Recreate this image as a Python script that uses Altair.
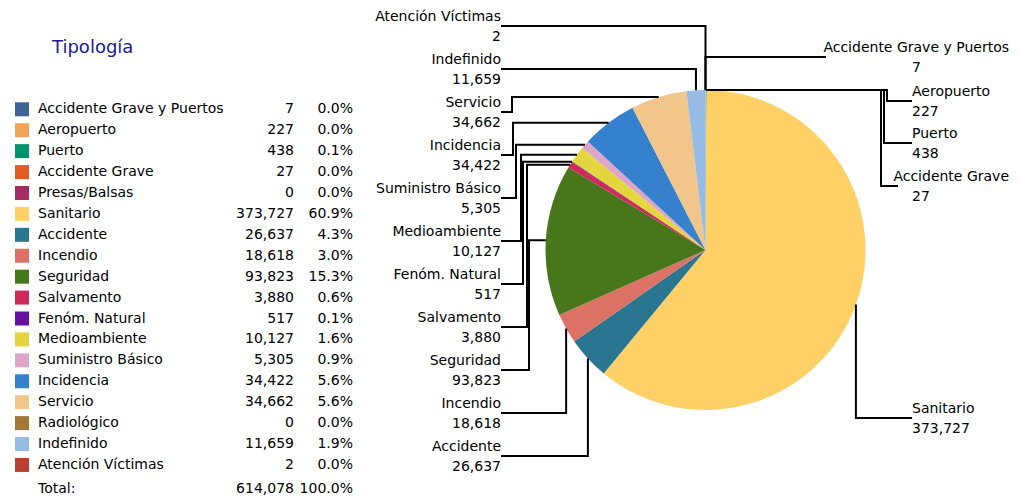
import math
import altair as alt
import pandas as pd

# ---------------- data ----------------
categories = ["Accidente Grave y Puertos", "Aeropuerto", "Puerto", "Accidente Grave",
              "Presas/Balsas", "Sanitario", "Accidente", "Incendio", "Seguridad",
              "Salvamento", "Fenóm. Natural", "Medioambiente", "Suministro Básico",
              "Incidencia", "Servicio", "Radiológico", "Indefinido", "Atención Víctimas"]
values = [7, 227, 438, 27, 0, 373727, 26637, 18618, 93823, 3880, 517, 10127, 5305,
          34422, 34662, 0, 11659, 2]
colors = ["#3D6399", "#F0A45A", "#00936E", "#E05C22", "#A12D62", "#FFD066", "#2A7590",
          "#DC7266", "#47771A", "#CE2A5A", "#630FA0", "#E4D63E", "#DBA6CA", "#3581CE",
          "#F2C58A", "#A27838", "#96BBE4", "#BA4030"]
title_text = "Tipología"
total_label = "Total:"

# labels around the pie
left_cats = ["Atención Víctimas", "Indefinido", "Servicio", "Incidencia", "Suministro Básico",
             "Medioambiente", "Fenóm. Natural", "Salvamento", "Seguridad", "Incendio", "Accidente"]
right_cats = ["Accidente Grave y Puertos", "Aeropuerto", "Puerto", "Accidente Grave", "Sanitario"]

# ---------------- layout ----------------
FONT = "'DejaVu Sans', sans-serif"
FS = 14
M = 8
W, H = 1002, 489
CX, CY, R = 705.5, 250.0, 160.0

left_line_y0, left_line_dy = 26.0, 43.0
left_elbow = [None, None, 512, 513, 516, 521, 523, 527, 529, None, None]
left_text_x = 501.0
right_line_y = [57.0, 101.0, 143.0, 186.0, 418.0]
right_elbow = [None, 887, 884, 881, None]
right_name_x = [826.0, 912.0, 912.0, 898.0, 912.0]
right_flush = [True, False, False, True, False]   # pushed against the right edge
right_edge_x = 1009.0
right_val_x = 912.0

xs = alt.Scale(domain=[M, M + W], nice=False, zero=False)
ys = alt.Scale(domain=[M, M + H], nice=False, zero=False, reverse=True)


def X(f):
    return alt.X(f, type="quantitative", scale=xs, axis=None)


def Y(f):
    return alt.Y(f, type="quantitative", scale=ys, axis=None)


n = len(categories)
total = sum(values)
df = pd.DataFrame({"cat": categories, "value": values, "idx": list(range(n))})
color_scale = alt.Scale(domain=categories, range=colors)

# ---------------- pie ----------------
pie = alt.Chart(df).mark_arc(radius=R, strokeWidth=0).encode(
    theta=alt.Theta("value:Q", stack=True),
    color=alt.Color("cat:N", scale=color_scale, legend=None),
    order=alt.Order("idx:Q"),
    x=alt.value(CX - M),
    y=alt.value(CY - M),
)

# ---------------- leader lines & labels ----------------
mid = {}
cum = 0.0
for c, v in zip(categories, values):
    mid[c] = (cum + v / 2.0) / total * 2 * math.pi
    cum += v
val_of = dict(zip(categories, values))


def edge(c):
    a = mid[c]
    return CX + R * math.sin(a), CY - R * math.cos(a)


pts = []
lab_left = []
lab_right = []
for i, c in enumerate(left_cats):
    px, py = edge(c)
    ly = left_line_y0 + i * left_line_dy
    ex = px if left_elbow[i] is None else left_elbow[i]
    for k, (x, y) in enumerate([(px, py), (ex, py), (ex, ly), (left_text_x, ly)]):
        pts.append({"cat": c, "k": k, "x": x, "y": y})
    lab_left.append({"cat": c, "value": val_of[c], "tx": left_text_x,
                     "ny": ly - 9.5, "vy": ly + 10.5})
for i, c in enumerate(right_cats):
    px, py = edge(c)
    ly = right_line_y[i]
    ex = px if right_elbow[i] is None else right_elbow[i]
    for k, (x, y) in enumerate([(px, py), (ex, py), (ex, ly), (right_name_x[i], ly)]):
        pts.append({"cat": c, "k": k, "x": x, "y": y})
    lab_right.append({"cat": c, "value": val_of[c],
                      "nx": right_edge_x if right_flush[i] else right_name_x[i],
                      "flush": right_flush[i],
                      "vx": right_val_x, "ny": ly - 9.5, "vy": ly + 10.5})

lines = alt.Chart(pd.DataFrame(pts)).mark_line(color="#000000", strokeWidth=2,
                                                  strokeCap="butt", strokeJoin="miter").encode(
    x=X("x"), y=Y("y"), detail="cat:N", order="k:Q")

ll = pd.DataFrame(lab_left)
lr = pd.DataFrame(lab_right)
tstyle = dict(font=FONT, fontSize=FS, color="#000000", baseline="middle")
left_names = alt.Chart(ll).mark_text(align="right", **tstyle).encode(
    x=X("tx"), y=Y("ny"), text="cat:N")
left_vals = alt.Chart(ll).mark_text(align="right", **tstyle).encode(
    x=X("tx"), y=Y("vy"), text=alt.Text("value:Q", format=","))
right_names = alt.Chart(lr[~lr.flush]).mark_text(align="left", **tstyle).encode(
    x=X("nx"), y=Y("ny"), text="cat:N")
right_names_flush = alt.Chart(lr[lr.flush]).mark_text(align="right", **tstyle).encode(
    x=X("nx"), y=Y("ny"), text="cat:N")
right_vals = alt.Chart(lr).mark_text(align="left", **tstyle).encode(
    x=X("vx"), y=Y("vy"), text=alt.Text("value:Q", format=","))

# ---------------- legend table ----------------
LEG_Y0, LEG_DY = 109.3, 20.92
leg = alt.Chart(df).transform_joinaggregate(tot="sum(value)").transform_calculate(
    pct="datum.value / datum.tot",
    ly=f"{LEG_Y0} + datum.idx * {LEG_DY}",
    sx="22", lx="38", vx="294", px="353",
)
swatch = leg.mark_square(size=196, opacity=1, strokeWidth=0).encode(
    x=X("sx"), y=Y("ly"), color=alt.Color("cat:N", scale=color_scale, legend=None))
leg_names = leg.mark_text(align="left", **tstyle).encode(x=X("lx"), y=Y("ly"), text="cat:N")
leg_vals = leg.mark_text(align="right", **tstyle).encode(
    x=X("vx"), y=Y("ly"), text=alt.Text("value:Q", format=","))
leg_pcts = leg.mark_text(align="right", **tstyle).encode(
    x=X("px"), y=Y("ly"), text=alt.Text("pct:Q", format=".1%"))

tot = alt.Chart(df).transform_aggregate(tot="sum(value)").transform_calculate(
    label=f"'{total_label}'", one="1", ty="489.3", lx="38", vx="294", px="353")
tot_name = tot.mark_text(align="left", **tstyle).encode(x=X("lx"), y=Y("ty"), text="label:N")
tot_val = tot.mark_text(align="right", **tstyle).encode(
    x=X("vx"), y=Y("ty"), text=alt.Text("tot:Q", format=","))
tot_pct = tot.mark_text(align="right", **tstyle).encode(
    x=X("px"), y=Y("ty"), text=alt.Text("one:Q", format=".1%"))

title = alt.Chart(pd.DataFrame({"t": [title_text], "x": [52.0], "y": [48.0]})).mark_text(
    align="left", baseline="middle", font=FONT, fontSize=18, color="#1A1A99").encode(
    x=X("x"), y=Y("y"), text="t:N")

chart = alt.layer(
    pie, lines, left_names, left_vals, right_names, right_names_flush, right_vals,
    swatch, leg_names, leg_vals, leg_pcts, tot_name, tot_val, tot_pct, title,
).properties(width=W, height=H, padding=0, autosize="none").configure_view(stroke=None)

chart.save("out.html", embed_options={"renderer": "svg", "actions": False})
